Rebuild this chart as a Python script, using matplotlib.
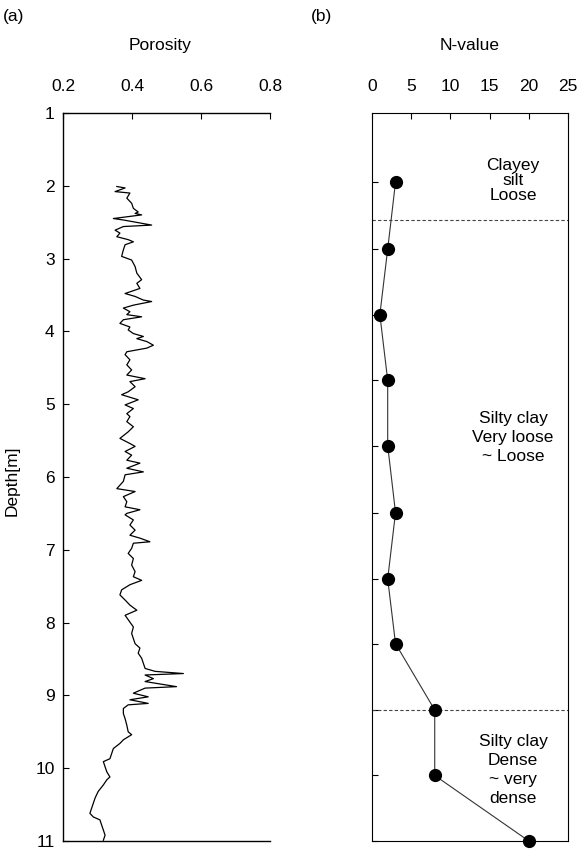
import matplotlib
matplotlib.use("Agg")
import matplotlib.pyplot as plt

plt.rcParams["font.family"] = ["Liberation Sans", "DejaVu Sans"]
plt.rcParams["font.size"] = 12.5

# porosity log (depth in m, porosity)
depth_log = [2.01, 2.03, 2.08, 2.10, 2.17, 2.24, 2.31, 2.36, 2.38, 2.40,
             2.45, 2.47, 2.54, 2.56, 2.61, 2.65, 2.70, 2.74, 2.77, 2.81,
             2.88, 2.97, 3.02, 3.11, 3.20, 3.29, 3.34, 3.41, 3.48, 3.52,
             3.57, 3.59, 3.64, 3.68, 3.73, 3.77, 3.80, 3.84, 3.89, 3.94,
             3.98, 4.03, 4.07, 4.10, 4.14, 4.19, 4.23, 4.28, 4.32, 4.39,
             4.46, 4.53, 4.60, 4.65, 4.69, 4.76, 4.83, 4.87, 4.94, 5.01,
             5.06, 5.13, 5.17, 5.24, 5.31, 5.38, 5.47, 5.54, 5.58, 5.65,
             5.70, 5.77, 5.81, 5.88, 5.93, 5.97, 6.06, 6.16, 6.20, 6.27,
             6.34, 6.41, 6.45, 6.50, 6.52, 6.59, 6.66, 6.73, 6.80, 6.84,
             6.89, 6.91, 6.98, 7.05, 7.12, 7.21, 7.30, 7.37, 7.42, 7.48,
             7.55, 7.62, 7.69, 7.76, 7.83, 7.90, 7.96, 8.06, 8.15, 8.22,
             8.29, 8.35, 8.42, 8.49, 8.56, 8.63, 8.67, 8.70, 8.72, 8.77,
             8.81, 8.88, 8.90, 8.97, 9.02, 9.06, 9.11, 9.13, 9.18, 9.25,
             9.32, 9.41, 9.50, 9.54, 9.61, 9.66, 9.73, 9.80, 9.87, 9.91,
             9.98, 10.05, 10.12, 10.16, 10.23, 10.32, 10.41, 10.48, 10.55, 10.62,
             10.67, 10.71, 10.78, 10.85, 10.92, 10.99]
porosity = [0.356, 0.380, 0.351, 0.394, 0.385, 0.399, 0.404, 0.418, 0.409, 0.428,
            0.346, 0.375, 0.457, 0.375, 0.351, 0.365, 0.356, 0.389, 0.404, 0.380,
            0.375, 0.370, 0.399, 0.409, 0.414, 0.428, 0.414, 0.423, 0.380, 0.409,
            0.433, 0.457, 0.404, 0.375, 0.394, 0.385, 0.428, 0.375, 0.365, 0.394,
            0.389, 0.404, 0.433, 0.414, 0.443, 0.462, 0.443, 0.385, 0.380, 0.394,
            0.385, 0.399, 0.385, 0.438, 0.394, 0.409, 0.389, 0.370, 0.418, 0.380,
            0.404, 0.385, 0.394, 0.385, 0.404, 0.389, 0.365, 0.394, 0.409, 0.380,
            0.399, 0.385, 0.423, 0.385, 0.433, 0.380, 0.375, 0.356, 0.409, 0.375,
            0.385, 0.380, 0.423, 0.385, 0.380, 0.404, 0.394, 0.409, 0.394, 0.423,
            0.452, 0.404, 0.399, 0.389, 0.404, 0.399, 0.409, 0.404, 0.428, 0.394,
            0.370, 0.365, 0.380, 0.394, 0.414, 0.380, 0.389, 0.404, 0.399, 0.404,
            0.409, 0.423, 0.418, 0.428, 0.433, 0.438, 0.467, 0.549, 0.438, 0.462,
            0.438, 0.529, 0.438, 0.404, 0.447, 0.394, 0.447, 0.389, 0.375, 0.375,
            0.380, 0.385, 0.389, 0.399, 0.375, 0.365, 0.346, 0.341, 0.336, 0.317,
            0.322, 0.327, 0.336, 0.327, 0.317, 0.302, 0.293, 0.288, 0.283, 0.278,
            0.288, 0.307, 0.312, 0.317, 0.322, 0.317]

# SPT N-values
depth_spt = [1.95, 2.87, 3.77, 4.67, 5.57, 6.49, 7.40, 8.29, 9.20, 10.10, 11.00]
n_value = [3, 2, 1, 2, 2, 3, 2, 3, 8, 8, 20]

# layer boundaries and descriptions
boundaries = [2.47, 9.20]
layer_text = ["Clayey\nsilt\nLoose", "Silty clay\nVery loose\n~ Loose",
              "Silty clay\nDense\n~ very\ndense"]
layer_depth = [1.93, 5.46, 10.02]
layer_spacing = [1.02, 1.34, 1.34]

fig = plt.figure(figsize=(5.8, 8.5), dpi=100)

# (a) porosity
ax1 = fig.add_axes([0.1086, 0.0106, 0.3569, 0.8565])
ax1.plot(porosity, depth_log, color="black", lw=0.9)
ax1.set_xlim(0.2, 0.8)
ax1.set_ylim(11, 1)
ax1.set_xticks([0.2, 0.4, 0.6, 0.8])
ax1.set_xticklabels(["0.2", "0.4", "0.6", "0.8"])
ax1.set_yticks(range(1, 12))
ax1.xaxis.tick_top()
ax1.tick_params(axis="x", direction="in", length=4, pad=14)
ax1.tick_params(axis="y", direction="in", length=4, pad=6)
ax1.spines["right"].set_visible(False)
for s in ax1.spines.values():
    s.set_linewidth(1.0)

# (b) N-value
ax2 = fig.add_axes([0.6414, 0.0106, 0.3379, 0.8565])
for b in boundaries:
    ax2.axhline(b, color="#444444", lw=0.8, ls=(0, (3, 2)))
ax2.plot(n_value, depth_spt, color="#333333", lw=0.8, marker="o",
         markersize=8.5, markerfacecolor="black", markeredgecolor="black",
         clip_on=False, zorder=3)
ax2.set_xlim(0, 25)
ax2.set_ylim(11, 1)
ax2.set_xticks([0, 5, 10, 15, 20, 25])
ax2.set_yticks(depth_spt)
ax2.set_yticklabels([])
ax2.xaxis.tick_top()
ax2.tick_params(axis="x", direction="in", length=4, pad=14)
ax2.tick_params(axis="y", direction="in", length=4)
for txt, d, sp in zip(layer_text, layer_depth, layer_spacing):
    ax2.text(18, d, txt, ha="center", va="center", linespacing=sp)

fig.text(0.276, 0.947, "Porosity", ha="center", va="center")
fig.text(0.810, 0.947, "N-value", ha="center", va="center")
fig.text(0.024, 0.980, "(a)", ha="center", va="center")
fig.text(0.555, 0.980, "(b)", ha="center", va="center")
fig.text(0.021, 0.435, "Depth[m]", ha="center", va="center", rotation=90)

fig.savefig("out.png", dpi=100)
